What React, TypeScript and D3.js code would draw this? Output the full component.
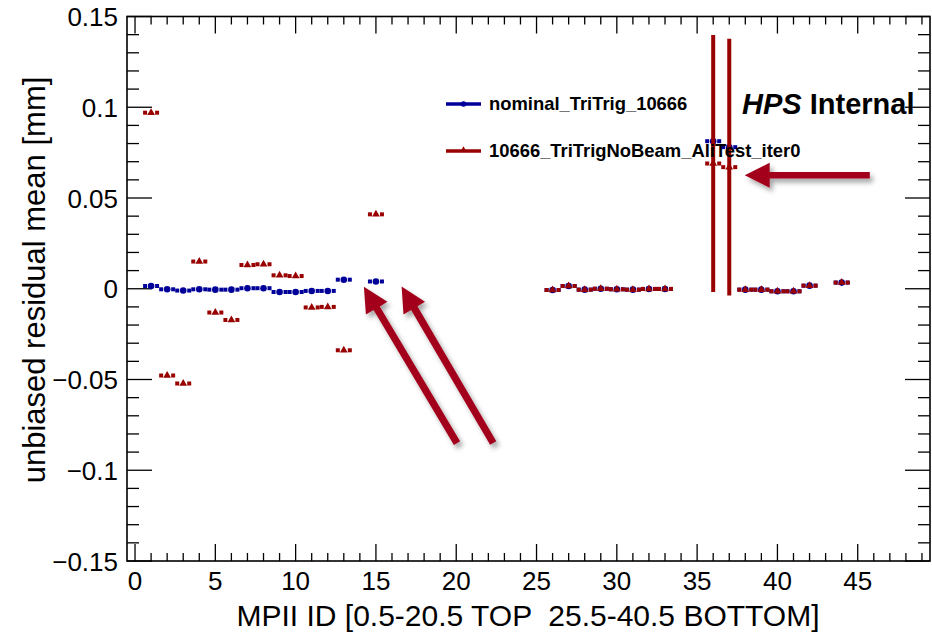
import React from 'react';
import * as d3 from 'd3';

// ---- data ----
const seriesNames = ['nominal_TriTrig_10666', '10666_TriTrigNoBeam_AliTest_iter0'];
const mpiiIds = [1, 2, 3, 4, 5, 6, 7, 8, 9, 10, 11, 12, 13, 15, 26, 27, 28, 29, 30, 31, 32, 33, 36, 37, 38, 39, 40, 41, 42, 44];
const nominalMean = [0.0015, -0.0003, -0.001, -0.0003, -0.0005, -0.0005, 0.0003, 0.0003, -0.0018, -0.0018, -0.0012, -0.0012, 0.005, 0.004,
  -0.0007, 0.0015, -0.0005, 0.0, -0.0003, -0.0005, -0.0001, -0.0001, 0.0813, 0.078, -0.0005, -0.0005, -0.0014, -0.0014, 0.0017, 0.0034];
const iterMean = [0.097, -0.0478, -0.0522, 0.015, -0.0131, -0.0172, 0.0131, 0.0135, 0.0074, 0.007, -0.0103, -0.01, -0.0339, 0.041,
  -0.0007, 0.0015, -0.0005, 0.0, -0.0003, -0.0005, -0.0001, -0.0001, 0.069, 0.067, -0.0005, -0.0005, -0.0014, -0.0014, 0.0017, 0.0034];
const iterErr = [0, 0, 0, 0, 0, 0, 0, 0, 0, 0, 0, 0, 0, 0,
  0, 0, 0, 0, 0, 0, 0, 0, 0.0708, 0.0707, 0, 0, 0, 0, 0, 0];
const xTickLabels = [0, 5, 10, 15, 20, 25, 30, 35, 40, 45];
const yTickLabels = [-0.15, -0.1, -0.05, 0, 0.05, 0.1, 0.15];
// annotation arrows in data coordinates: [tipX, tipY, tailX, tailY]
const arrows = [
  [14.25, 0.0011, 20.05, -0.085],
  [16.6, 0.0012, 22.3, -0.085],
  [37.96, 0.0625, 45.75, 0.0625],
];

const W = 932, H = 634;
const fL = 127, fR = 930, fT = 16.5, fB = 561;
const RED = '#990000', BLUE = '#000099', ARROW = '#a3001e';
const FONT = '"Liberation Sans", Arial, Helvetica, sans-serif';

function arrowPath(tx: number, ty: number, ex: number, ey: number, L: number, hw: number, sw: number) {
  const dx = ex - tx, dy = ey - ty;
  const len = Math.hypot(dx, dy);
  const ux = dx / len, uy = dy / len;
  const nx = -uy, ny = ux;
  const bx = tx + ux * L, by = ty + uy * L;
  const pts = [
    [tx, ty],
    [bx + nx * hw, by + ny * hw],
    [bx + nx * sw, by + ny * sw],
    [ex + nx * sw, ey + ny * sw],
    [ex - nx * sw, ey - ny * sw],
    [bx - nx * sw, by - ny * sw],
    [bx - nx * hw, by - ny * hw],
  ];
  return 'M' + pts.map(p => p[0].toFixed(1) + ',' + p[1].toFixed(1)).join('L') + 'Z';
}

export default function App() {
  const x = d3.scaleLinear().domain([-0.5, 49.5]).range([fL, fR]);
  const y = d3.scaleLinear().domain([-0.15, 0.15]).range([fB, fT]);

  const xMinor = d3.range(0, 50, 1);
  const yMinor = d3.range(-15, 16, 1).map(v => v / 100);
  const tri = d3.symbol().type(d3.symbolTriangle).size(26)()!;
  const triLeg = d3.symbol().type(d3.symbolTriangle).size(18)()!;

  const seg = (xs: number, ys: number, color: string, key: string) => (
    <g key={key}>
      <line x1={xs - 8} x2={xs - 4} y1={ys} y2={ys} stroke={color} strokeWidth={4} />
      <line x1={xs + 4} x2={xs + 8} y1={ys} y2={ys} stroke={color} strokeWidth={4} />
    </g>
  );

  return (
    <svg width={W} height={H} style={{ position: 'absolute', left: 0, top: 0, background: '#fff' }} fontFamily={FONT}>
      <defs>
        <filter id="shadow" x="-30%" y="-30%" width="160%" height="160%">
          <feDropShadow dx="3" dy="4" stdDeviation="2.5" floodColor="#000" floodOpacity="0.35" />
        </filter>
      </defs>
      <rect x={0} y={0} width={W} height={H} fill="#fff" />

      {/* ticks */}
      <g stroke="#000" strokeWidth={1.3}>
        {xMinor.map(v => {
          const major = v % 5 === 0;
          const len = major ? 17 : 8;
          return (
            <g key={'xt' + v}>
              <line x1={x(v)} x2={x(v)} y1={fB} y2={fB - len} />
              <line x1={x(v)} x2={x(v)} y1={fT} y2={fT + len} />
            </g>
          );
        })}
        {yMinor.map((v, i) => {
          const major = (i % 5) === 0;
          const len = major ? 25 : 12;
          return (
            <g key={'yt' + i}>
              <line x1={fL} x2={fL + len} y1={y(v)} y2={y(v)} />
              <line x1={fR} x2={fR - len} y1={y(v)} y2={y(v)} />
            </g>
          );
        })}
      </g>
      <rect x={fL} y={fT} width={fR - fL} height={fB - fT} fill="none" stroke="#000" strokeWidth={1.6} />

      {/* tick labels */}
      {xTickLabels.map(v => (
        <text key={'xl' + v} x={x(v)} y={590} fontSize={26} textAnchor="middle">{v}</text>
      ))}
      {yTickLabels.map(v => (
        <text key={'yl' + v} x={118} y={y(v) + 9.5} fontSize={26} textAnchor="end">
          {v < 0 ? '\u2212' + String(Math.abs(v)) : String(v)}
        </text>
      ))}

      {/* axis titles */}
      <text x={528} y={626} fontSize={30} textAnchor="middle" style={{ whiteSpace: 'pre' }}>MPII ID [0.5-20.5 TOP  25.5-40.5 BOTTOM]</text>
      <text transform={`translate(45,${(75 + 485) / 2}) rotate(-90)`} fontSize={31} textAnchor="middle">unbiased residual mean [mm]</text>

      {/* nominal series */}
      {mpiiIds.map((id, i) => {
        const xs = x(id), ys = y(nominalMean[i]);
        return (
          <g key={'n' + i}>
            {seg(xs, ys, BLUE, 'ns' + i)}
            <circle cx={xs} cy={ys} r={3.3} fill={BLUE} />
          </g>
        );
      })}
      {/* iter0 series */}
      {mpiiIds.map((id, i) => {
        const xs = x(id), ys = y(iterMean[i]);
        const e = iterErr[i];
        return (
          <g key={'r' + i}>
            {seg(xs, ys, RED, 'rs' + i)}
            <path d={tri} transform={`translate(${xs},${ys})`} fill={RED} />
            {e > 0 && <line x1={xs} x2={xs} y1={y(iterMean[i] + e)} y2={y(iterMean[i] - e)} stroke={RED} strokeWidth={4} />}
          </g>
        );
      })}

      {/* legend */}
      <g>
        <line x1={446} x2={481} y1={104} y2={104} stroke={BLUE} strokeWidth={3.5} />
        <circle cx={463.5} cy={104} r={2.8} fill={BLUE} />
        <text x={489} y={109.5} fontSize={18.4} fontWeight="bold">{seriesNames[0]}</text>
        <line x1={446} x2={481} y1={151} y2={151} stroke={RED} strokeWidth={3.5} />
        <path d={triLeg} transform="translate(463.5,150)" fill={RED} />
        <text x={489} y={156.5} fontSize={18.4} fontWeight="bold">{seriesNames[1]}</text>
      </g>

      {/* label */}
      <text x={742} y={114} fontSize={29} fontWeight="bold">
        <tspan fontStyle="italic">HPS</tspan> Internal
      </text>

      {/* arrows */}
      <g filter="url(#shadow)" fill={ARROW}>
        {arrows.map((a, i) => (
          <path key={'ar' + i} d={arrowPath(x(a[0]), y(a[1]), x(a[2]), y(a[3]), 25, 12.5, i === 2 ? 3.3 : 3.6)} />
        ))}
      </g>
    </svg>
  );
}
